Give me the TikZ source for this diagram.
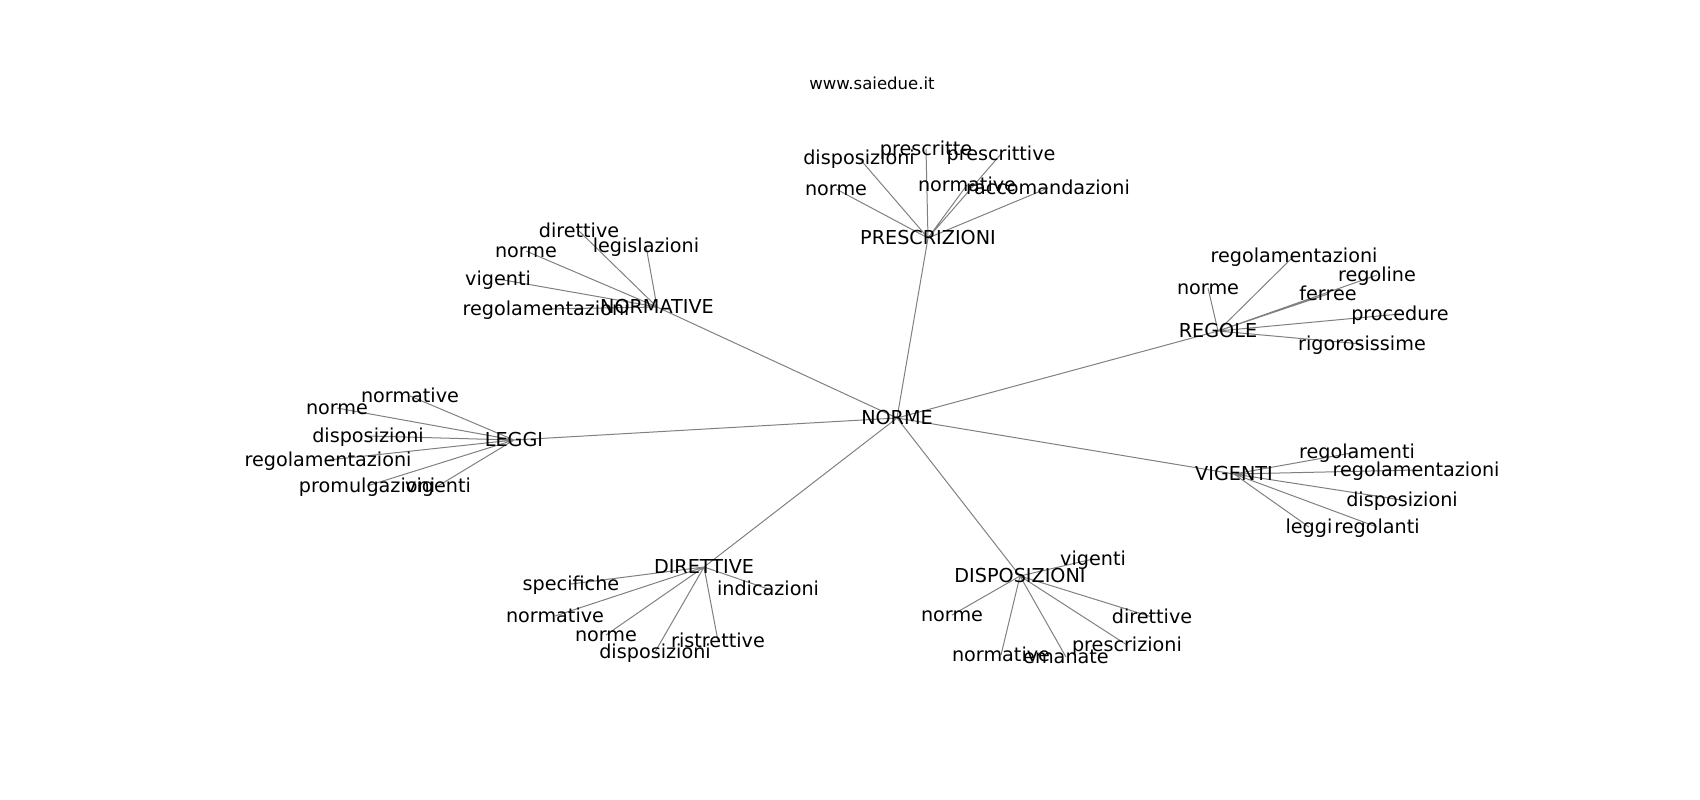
\documentclass[tikz,border=0pt]{standalone}
\usepackage{fontspec}
\setmainfont{DejaVu Sans}
\usetikzlibrary{backgrounds}

\begin{document}
\begin{tikzpicture}[x=0.75pt,y=-0.75pt,
		lbl/.style={inner sep=0pt,text height=1em,text depth=0.05em,font=\fontsize{14.4}{16}\selectfont},
		edge/.style={draw=gray,line width=0.75pt}]
			\useasboundingbox (0,0) rectangle (1700,800);
			\node[inner sep=0pt,font=\fontsize{12.4}{14}\selectfont] (title) at (872,83){www.saiedue.it};
			% hubs
			\node[lbl] (norme) at (897,418){NORME};
			\node[lbl] (prescr) at (928,238){PRESCRIZIONI};
			\node[lbl] (normat) at (657,307){NORMATIVE};
			\node[lbl] (regole) at (1218,331){REGOLE};
			\node[lbl] (leggi) at (514,440){LEGGI};
			\node[lbl] (vigenti) at (1234,474){VIGENTI};
			\node[lbl] (dirett) at (704,567){DIRETTIVE};
			\node[lbl] (dispos) at (1020,576){DISPOSIZIONI};
			% PRESCRIZIONI
			\node[lbl] (pr1) at (859,158){disposizioni};
			\node[lbl] (pr2) at (926,149){prescritte};
			\node[lbl] (pr3) at (1001,154){prescrittive};
			\node[lbl] (pr4) at (836,189){norme};
			\node[lbl] (pr5) at (967,185){normative};
			\node[lbl] (pr6) at (1048,188){raccomandazioni};
			% NORMATIVE
			\node[lbl] (nv1) at (579,231){direttive};
			\node[lbl] (nv2) at (646,246){legislazioni};
			\node[lbl] (nv3) at (526,251){norme};
			\node[lbl] (nv4) at (498,279){vigenti};
			\node[lbl] (nv5) at (546,309){regolamentazioni};
			% REGOLE
			\node[lbl] (rg1) at (1294,256){regolamentazioni};
			\node[lbl] (rg2) at (1208,288){norme};
			\node[lbl] (rg3) at (1377,275){regoline};
			\node[lbl] (rg4) at (1328,294){ferree};
			\node[lbl] (rg5) at (1400,314){procedure};
			\node[lbl] (rg6) at (1362,344){rigorosissime};
			% LEGGI
			\node[lbl] (lg1) at (410,396){normative};
			\node[lbl] (lg2) at (337,408){norme};
			\node[lbl] (lg3) at (368,436){disposizioni};
			\node[lbl] (lg4) at (328,460){regolamentazioni};
			\node[lbl] (lg5) at (367,486){promulgazioni};
			\node[lbl] (lg6) at (438,486){vigenti};
			% VIGENTI
			\node[lbl] (vg1) at (1357,452){regolamenti};
			\node[lbl] (vg2) at (1416,470){regolamentazioni};
			\node[lbl] (vg3) at (1402,500){disposizioni};
			\node[lbl] (vg4) at (1309,527){leggi};
			\node[lbl] (vg5) at (1377,527){regolanti};
			% DIRETTIVE
			\node[lbl] (dr1) at (571,584){specifiche};
			\node[lbl] (dr2) at (768,589){indicazioni};
			\node[lbl] (dr3) at (555,616){normative};
			\node[lbl] (dr4) at (606,635){norme};
			\node[lbl] (dr5) at (655,652){disposizioni};
			\node[lbl] (dr6) at (718,641){ristrettive};
			% DISPOSIZIONI
			\node[lbl] (ds1) at (1093,559){vigenti};
			\node[lbl] (ds2) at (952,615){norme};
			\node[lbl] (ds3) at (1152,617){direttive};
			\node[lbl] (ds4) at (1127,645){prescrizioni};
			\node[lbl] (ds5) at (1001,655){normative};
			\node[lbl] (ds6) at (1066,657){emanate};
			\begin{scope}[on background layer]
				\draw[edge] (norme.center)--(prescr.center) (norme.center)--(normat.center)
					(norme.center)--(regole.center) (norme.center)--(leggi.center)
					(norme.center)--(vigenti.center) (norme.center)--(dirett.center)
					(norme.center)--(dispos.center);
				\draw[edge] (prescr.center)--(pr1.center) (prescr.center)--(pr2.center)
					(prescr.center)--(pr3.center) (prescr.center)--(pr4.center)
					(prescr.center)--(pr5.center) (prescr.center)--(pr6.center);
				\draw[edge] (normat.center)--(nv1.center) (normat.center)--(nv2.center)
					(normat.center)--(nv3.center) (normat.center)--(nv4.center)
					(normat.center)--(nv5.center);
				\draw[edge] (regole.center)--(rg1.center) (regole.center)--(rg2.center)
					(regole.center)--(rg3.center) (regole.center)--(rg4.center)
					(regole.center)--(rg5.center) (regole.center)--(rg6.center);
				\draw[edge] (leggi.center)--(lg1.center) (leggi.center)--(lg2.center)
					(leggi.center)--(lg3.center) (leggi.center)--(lg4.center)
					(leggi.center)--(lg5.center) (leggi.center)--(lg6.center);
				\draw[edge] (vigenti.center)--(vg1.center) (vigenti.center)--(vg2.center)
					(vigenti.center)--(vg3.center) (vigenti.center)--(vg4.center)
					(vigenti.center)--(vg5.center);
				\draw[edge] (dirett.center)--(dr1.center) (dirett.center)--(dr2.center)
					(dirett.center)--(dr3.center) (dirett.center)--(dr4.center)
					(dirett.center)--(dr5.center) (dirett.center)--(dr6.center);
				\draw[edge] (dispos.center)--(ds1.center) (dispos.center)--(ds2.center)
					(dispos.center)--(ds3.center) (dispos.center)--(ds4.center)
					(dispos.center)--(ds5.center) (dispos.center)--(ds6.center);
			\end{scope}
		\end{tikzpicture}
\end{document}
